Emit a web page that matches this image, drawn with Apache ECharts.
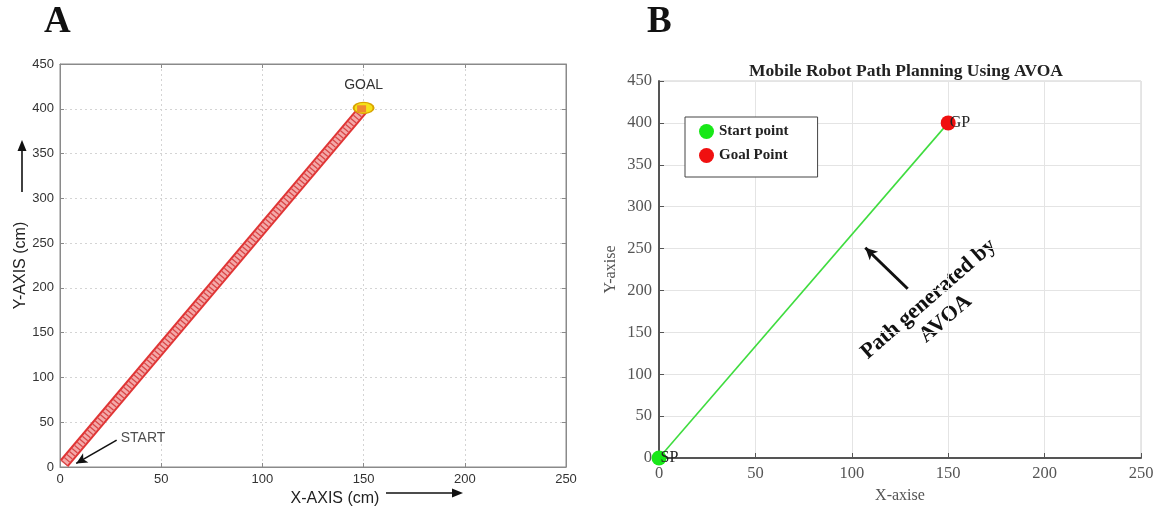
<!DOCTYPE html>
<html><head><meta charset="utf-8">
<script src="https://cdn.jsdelivr.net/npm/echarts@6/dist/echarts.min.js"></script>
<style>html,body{margin:0;padding:0;background:#fff}#c{width:1163px;height:509px}</style>
</head><body><div id="c"></div>
<script>
// ---- data ----
const axisX = { min: 0, max: 250, step: 50 };
const axisY = { min: 0, max: 450, step: 50 };
// Panel A
const pathAX = [2, 150];
const pathAY = [4, 400];
const goalA = [150, 401];
const startLabelA = [29, 32];
const startArrowA = [[28, 30], [8, 4]];
// Panel B
const pathBX = [0, 150];
const pathBY = [0, 400];
const startB = [0, 0];
const goalB = [150, 400];
const arrowB = [[129, 202], [107, 251]];
const legendNames = ['Start point', 'Goal Point'];
const titleB = 'Mobile Robot Path Planning Using AVOA';
const annotB = 'Path generated by\nAVOA';

const zip = (xs, ys) => xs.map((x, i) => [x, ys[i]]);
const sansA = 'Liberation Sans, Arial, sans-serif';
const serif = 'Liberation Serif, Times New Roman, serif';

const chart = echarts.init(document.getElementById('c'));

function axA(extra, range) {
  return Object.assign({
    type: 'value', min: range.min, max: range.max, interval: range.step, gridIndex: 0,
    axisLine: { show: true, onZero: false, lineStyle: { color: '#8a8a8a', width: 1 } },
    axisTick: { show: true, inside: true, length: 4, lineStyle: { color: '#8a8a8a' } },
    axisLabel: { color: '#333', fontSize: 13, fontFamily: sansA, margin: 6 },
    splitLine: { show: false }
  }, extra);
}
function axB(extra, range) {
  return Object.assign({
    type: 'value', min: range.min, max: range.max, interval: range.step, gridIndex: 1,
    axisLine: { show: true, onZero: false, lineStyle: { color: '#555', width: 2 } },
    axisTick: { show: true, inside: true, length: 5, lineStyle: { color: '#555' } },
    axisLabel: { color: '#555', fontSize: 16.5, fontFamily: serif, margin: 7 },
    splitLine: { show: true, lineStyle: { color: '#e4e4e4', width: 1 } }
  }, extra);
}

const option = {
  backgroundColor: '#fff',
  animation: false,
  title: {
    text: titleB, left: 901, top: 57, textAlign: 'center',
    textStyle: { fontFamily: serif, fontWeight: 'bold', fontSize: 17.5, color: '#222' }
  },
  legend: {
    data: legendNames, orient: 'vertical', left: 685, top: 117,
    icon: 'circle', itemWidth: 15, itemHeight: 15, itemGap: 9,
    padding: [7, 29, 14, 14], borderColor: '#444', borderWidth: 1,
    backgroundColor: '#fff',
    textStyle: { fontFamily: serif, fontWeight: 'bold', fontSize: 15, color: '#222' }
  },
  grid: [
    { left: 60, top: 64, width: 506, height: 403, show: true, borderColor: '#8a8a8a', borderWidth: 1, outerBoundsMode: 'none' },
    { left: 659, top: 81, width: 482, height: 377, show: true, borderColor: '#cfcfcf', borderWidth: 1, outerBoundsMode: 'none' }
  ],
  xAxis: [
    axA({ position: 'bottom',
      name: 'X-AXIS (cm)', nameLocation: 'middle', nameGap: 17,
      nameTextStyle: { fontFamily: sansA, fontSize: 16, color: '#222', padding: [0, 0, 0, 44] },
      splitLine: { show: true, lineStyle: { color: '#d4d4d4', type: [2, 3] } } }, axisX),
    axA({ position: 'top', axisLabel: { show: false } }, axisX),
    axB({ position: 'bottom', name: 'X-axise', nameLocation: 'middle', nameGap: 30,
      nameTextStyle: { fontFamily: serif, fontSize: 16, color: '#555' } }, axisX)
  ],
  yAxis: [
    axA({ position: 'left',
      name: 'Y-AXIS (cm)', nameLocation: 'middle', nameGap: 30,
      nameTextStyle: { fontFamily: sansA, fontSize: 16, color: '#222' },
      splitLine: { show: true, lineStyle: { color: '#d4d4d4', type: [2, 3] } } }, axisY),
    axA({ position: 'right', axisLabel: { show: false } }, axisY),
    axB({ position: 'left', gridIndex: 1, name: 'Y-axise', nameLocation: 'middle', nameGap: 40,
      nameTextStyle: { fontFamily: serif, fontSize: 16, color: '#555' } }, axisY)
  ],
  series: [
    // Panel A: hatched red path band
    { type: 'line', xAxisIndex: 0, yAxisIndex: 0, data: zip(pathAX, pathAY), showSymbol: false, silent: true,
      lineStyle: { color: '#e03535', width: 11, cap: 'butt' }, z: 2 },
    { type: 'line', xAxisIndex: 0, yAxisIndex: 0, data: zip(pathAX, pathAY), showSymbol: false, silent: true,
      lineStyle: { color: '#f4a9a9', width: 7, cap: 'butt' }, z: 3 },
    { type: 'line', xAxisIndex: 0, yAxisIndex: 0, data: zip(pathAX, pathAY), showSymbol: false, silent: true,
      lineStyle: { color: '#d84848', width: 7, type: [1.3, 2.7], cap: 'butt' }, z: 4 },
    // goal marker A
    { type: 'scatter', xAxisIndex: 0, yAxisIndex: 0, data: [goalA], symbol: 'circle', symbolSize: [20, 11],
      itemStyle: { color: '#f5e318', borderColor: '#d9a300', borderWidth: 1.5, opacity: 1 }, z: 5,
      label: { show: true, position: 'top', distance: 10, formatter: 'GOAL', color: '#333', fontSize: 14, fontFamily: sansA } },
    { type: 'scatter', xAxisIndex: 0, yAxisIndex: 0, data: [[goalA[0] - 1, goalA[1] - 1]], symbol: 'rect', symbolSize: [9, 7],
      itemStyle: { color: '#f08a30', opacity: 1 }, z: 6 },
    // START label + arrow
    { type: 'scatter', xAxisIndex: 0, yAxisIndex: 0, data: [startLabelA], symbolSize: 0, z: 7,
      label: { show: true, position: 'right', distance: 2, formatter: 'START', color: '#222', fontSize: 14, fontFamily: sansA },
      markLine: { silent: true, symbol: ['none', 'arrow'], symbolSize: [8, 11],
        lineStyle: { color: '#111', width: 1.6, type: 'solid' }, label: { show: false },
        data: [[{ coord: startArrowA[0] }, { coord: startArrowA[1] }]] } },
    // Panel B
    { type: 'line', xAxisIndex: 2, yAxisIndex: 2, data: zip(pathBX, pathBY), showSymbol: false, silent: true,
      lineStyle: { color: '#3fdc3f', width: 1.6 }, z: 2,
      markLine: { silent: true, symbol: ['none', 'arrow'], symbolSize: [9, 12],
        lineStyle: { color: '#111', width: 3, type: 'solid' }, label: { show: false },
        data: [[{ coord: arrowB[0] }, { coord: arrowB[1] }]] } },
    { name: legendNames[0], type: 'scatter', xAxisIndex: 2, yAxisIndex: 2, data: [startB], symbolSize: 15,
      itemStyle: { color: '#18e818', opacity: 1 }, z: 5,
      label: { show: true, position: 'right', distance: -6, formatter: 'SP', color: '#222', fontSize: 16, fontFamily: serif } },
    { name: legendNames[1], type: 'scatter', xAxisIndex: 2, yAxisIndex: 2, data: [goalB], symbolSize: 15,
      itemStyle: { color: '#f01010', opacity: 1 }, z: 5,
      label: { show: true, position: 'right', distance: -6, formatter: 'GP', color: '#222', fontSize: 16, fontFamily: serif } }
  ],
  graphic: [
    { type: 'text', left: 44, top: 4, style: { text: 'A', font: 'bold 37px ' + serif, fill: '#111' } },
    { type: 'text', left: 647, top: 4, style: { text: 'B', font: 'bold 37px ' + serif, fill: '#111' } },
    // X-axis arrow (A)
    { type: 'line', shape: { x1: 386, y1: 493, x2: 454, y2: 493 }, style: { stroke: '#111', lineWidth: 1.6 } },
    { type: 'polygon', shape: { points: [[463, 493], [452, 488.5], [452, 497.5]] }, style: { fill: '#111' } },
    // Y-axis arrow (A)
    { type: 'line', shape: { x1: 22, y1: 192, x2: 22, y2: 150 }, style: { stroke: '#111', lineWidth: 1.6 } },
    { type: 'polygon', shape: { points: [[22, 140], [17.5, 151], [26.5, 151]] }, style: { fill: '#111' } },
    // rotated annotation (B)
    { type: 'text', x: 937, y: 309, rotation: 41 * Math.PI / 180,
      style: { text: annotB, font: 'bold 22px ' + serif, fill: '#111', align: 'center', verticalAlign: 'middle', lineHeight: 26 } }
  ]
};
chart.setOption(option);
</script>
</body></html>
